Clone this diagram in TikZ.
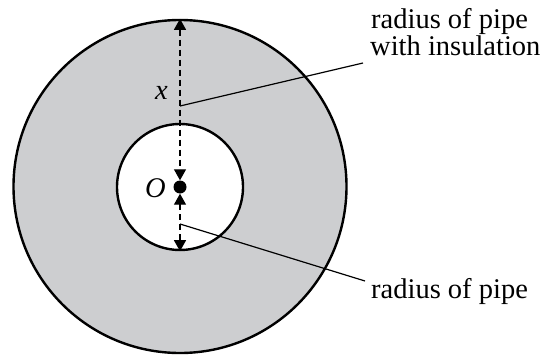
\documentclass[tikz,border=0pt]{standalone}
\usepackage{fontspec}
\setmainfont{Liberation Serif}
\newfontfamily\tnr{Liberation Serif}
\usetikzlibrary{arrows.meta}
\definecolor{ins}{RGB}{205,206,208}
\begin{document}
\begin{tikzpicture}[x=1pt,y=-1pt,
 ring/.style={circle,draw=black,line width=2.4pt,inner sep=0pt},
 lbl/.style={inner sep=0pt,anchor=base west,font=\tnr\fontsize{28.5}{30}\selectfont},
 sym/.style={inner sep=0pt,anchor=base west,font=\tnr\fontsize{28.5}{30}\selectfont\itshape},
 dim/.style={dash pattern=on 6pt off 4pt,line width=1.2pt,{Triangle[length=11pt,width=12pt]}-{Triangle[length=11pt,width=12pt]}},
 lead/.style={line width=1.2pt}]
\useasboundingbox (0,0) rectangle (549,356);
\node[ring,fill=ins,minimum size=333pt] (outer) at (180,186.5) {};
\node[ring,fill=white,minimum size=126pt] (inner) at (180,187) {};
\node[circle,fill=black,inner sep=0pt,minimum size=13pt] (dot) at (180,187) {};
\draw[dim] (outer.north) -- (dot.north);
\draw[dim] (dot.south) -- (inner.south);
\node[sym] (xl) at (155,99) {x};
\node[sym] (ol) at (145,197) {O};
\node[lbl] (la) at (371,28) {radius of pipe};
\node[lbl] (lb) at (370,55) {with insulation};
\node[lbl] (lc) at (371,298) {radius of pipe};
\coordinate (p1) at (180,106);
\coordinate (p2) at (180,224);
\coordinate (e1) at (363,63);
\coordinate (e2) at (365,281);
\draw[lead] (p1) -- (e1);
\draw[lead] (p2) -- (e2);
\end{tikzpicture}
\end{document}
